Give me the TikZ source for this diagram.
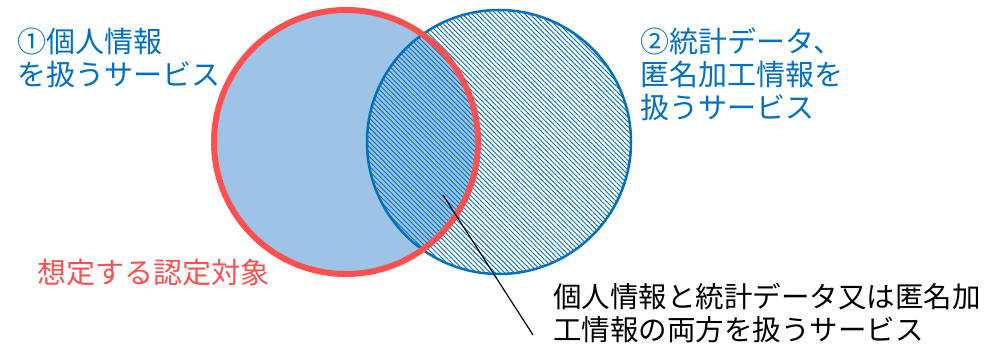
\documentclass[tikz,border=0pt]{standalone}
\usepackage{fontspec}
\setmainfont{Noto Sans CJK JP}
\usetikzlibrary{patterns.meta}
\definecolor{mblue}{RGB}{0,112,192}
\definecolor{mred}{RGB}{255,80,80}
\definecolor{lblue}{RGB}{157,195,230}
\begin{document}
\begin{tikzpicture}[x=1pt,y=1pt,
  lbl/.style={align=left,anchor=base west,inner sep=0pt,font=\fontsize{29}{33}\selectfont}]
\def\r{132};% both circles
\useasboundingbox (0,0) rectangle (988,345);
\coordinate (pc) at (346,203);
\coordinate (sc) at (499,203);
\fill[lblue] (pc) circle(\r);
\fill[pattern={Lines[angle=-45,distance=3.4pt,line width=0.9pt]},pattern color=mblue] (sc) circle(\r);
\draw[mblue,line width=2.5pt] (sc) circle(\r);
\draw[mred,line width=6pt] (pc) circle(\r);
\coordinate (tip) at (443,150);
\coordinate (lend) at (533,10);
\draw[line width=1.2pt] (tip) -- (lend);
% base anchor = last line
\node[lbl,mblue] (pers) at (17,259) {①個人情報\\を扱うサービス};
\node[lbl,mblue] (stat) at (640,226) {②統計データ、\\匿名加工情報を\\扱うサービス};
\node[lbl,mred] (target) at (37,61) {想定する認定対象};
\node[lbl,font=\fontsize{28.5}{33}\selectfont] (both) at (553,4) {個人情報と統計データ又は匿名加\\工情報の両方を扱うサービス};
\end{tikzpicture}
\end{document}
